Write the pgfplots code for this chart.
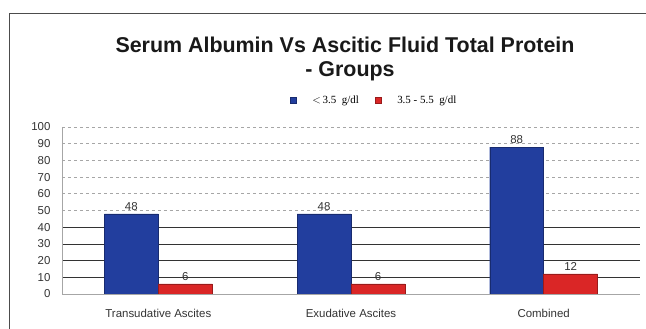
\documentclass[border=0pt]{standalone}
\usepackage{pgfplots}
\pgfplotsset{compat=1.18}
\usepackage{fontspec}
\setmainfont{Liberation Sans}
\newfontfamily\seriffont{Liberation Serif}
\definecolor{barblue}{RGB}{34,62,158}
\definecolor{barred}{RGB}{218,38,38}
\begin{document}
\begin{tikzpicture}
\path[use as bounding box] (-62bp,-35bp) rectangle (584bp,294bp);
\draw[gray!60!black, line width=0.8bp] (-53bp,-35bp) -- (-53bp,281bp) -- (584bp,281bp);
\begin{axis}[
  scale only axis, width=578bp, height=167bp,
  at={(0,0)}, anchor=south west,
  xmin=-0.5, xmax=2.5, ymin=0, ymax=100,
  ybar=0pt, bar width=0.28,
  xtick={0,1,2},
  xticklabels={Transudative Ascites, Exudative Ascites, Combined},
  ytick={0,10,20,30,40},
  extra y ticks={50,60,70,80,90,100},
  extra y tick style={grid=major, major grid style={dashed, gray!70, line width=0.6bp}},
  ymajorgrids, major grid style={black!80, line width=0.6bp},
  major tick length=0pt,
  axis x line*=bottom, axis y line*=left,
  axis line style={gray!70},
  /pgf/number format/assume math mode=true,
  tick label style={font=\fontsize{11.5}{13}\selectfont, text=black!80},
  xticklabel style={yshift=-12bp},
  yticklabel style={xshift=-8bp},
  nodes near coords,
  nodes near coords style={font=\fontsize{11.5}{13}\selectfont, text=black!80},
  legend style={draw=none, fill=none, at={(0.54,1.16)}, anchor=center,
    font=\seriffont\fontsize{11}{13}\selectfont, column sep=14bp},
  legend columns=2,
  legend image code/.code={\fill[#1] (0bp,-3bp) rectangle (6bp,3bp);},
]
\addplot[fill=barblue, draw=barblue!70!black] coordinates {(0,48) (1,48) (2,88)};
\addlegendentry{$<$\,3.5~ g/dl}
\addplot[fill=barred, draw=barred!70!black] coordinates {(0,6) (1,6) (2,12)};
\addlegendentry{3.5 - 5.5~ g/dl}
\end{axis}
\node[font=\bfseries\fontsize{21.5}{25}\selectfont, text=black!90] at (283bp,249bp) {Serum Albumin Vs Ascitic Fluid Total Protein};
\node[font=\bfseries\fontsize{21.5}{25}\selectfont, text=black!90] at (288bp,223bp) {- Groups};
\end{tikzpicture}
\end{document}
